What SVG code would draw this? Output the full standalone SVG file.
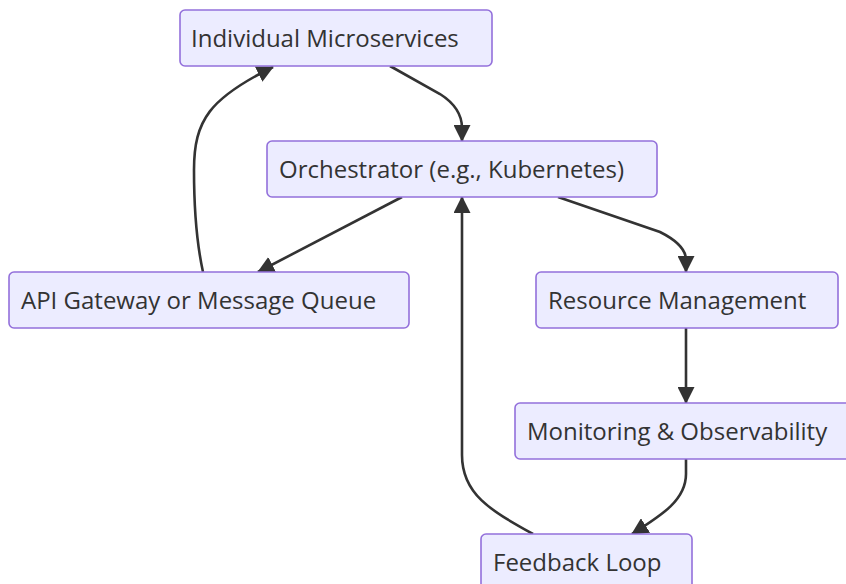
<svg xmlns="http://www.w3.org/2000/svg" width="846" height="584" viewBox="0 0 846 584">
<style>
.node rect{fill:#ECECFF;stroke:#9370DB;stroke-width:1.6}
.node text{font-family:"Open Sans","Liberation Sans",sans-serif;font-size:24px;fill:#333}
.edges path{fill:none;stroke:#333;stroke-width:2.6}
</style>
<defs>
<marker id="arr" markerUnits="userSpaceOnUse" markerWidth="17" markerHeight="17" refX="16" refY="8.5" orient="auto" viewBox="0 0 17 17">
<path d="M0,0 L17,8.5 L0,17 z" fill="#333"/>
</marker>
</defs>
<rect width="846" height="584" fill="#fff"/>
<g class="edges">
<path d="M390,66 L440,94 Q462,108 462,128 L462,141" marker-end="url(#arr)"/>
<path d="M203,272 C196,240 194,210 194,170 C194,120 210,98 273,67" marker-end="url(#arr)"/>
<path d="M402,197 L258,272" marker-end="url(#arr)"/>
<path d="M558,197 L660,232 Q686,245 686,260 L686,272" marker-end="url(#arr)"/>
<path d="M686,328 L686,403" marker-end="url(#arr)"/>
<path d="M686,459 L686,474 C686,500 662,515 632,534" marker-end="url(#arr)"/>
<path d="M533,534 C492,511 462,495 462,455 L462,197" marker-end="url(#arr)"/>
</g>
<g id="micro" class="node"><rect x="180" y="10" width="312" height="56" rx="5"/><text x="191" y="46.5">Individual Microservices</text></g>
<g id="orch" class="node"><rect x="267" y="141" width="390" height="56" rx="5"/><text x="279" y="177.5">Orchestrator (e.g., Kubernetes)</text></g>
<g id="api" class="node"><rect x="9" y="272" width="400" height="56" rx="5"/><text x="21" y="308.5">API Gateway or Message Queue</text></g>
<g id="res" class="node"><rect x="536" y="272" width="302" height="56" rx="5"/><text x="548" y="308.5">Resource Management</text></g>
<g id="mon" class="node"><rect x="515" y="403" width="336" height="56" rx="5"/><text x="527" y="439.5">Monitoring &amp; Observability</text></g>
<g id="feed" class="node"><rect x="481" y="534" width="211" height="56" rx="5"/><text x="493" y="570.5">Feedback Loop</text></g>
</svg>
